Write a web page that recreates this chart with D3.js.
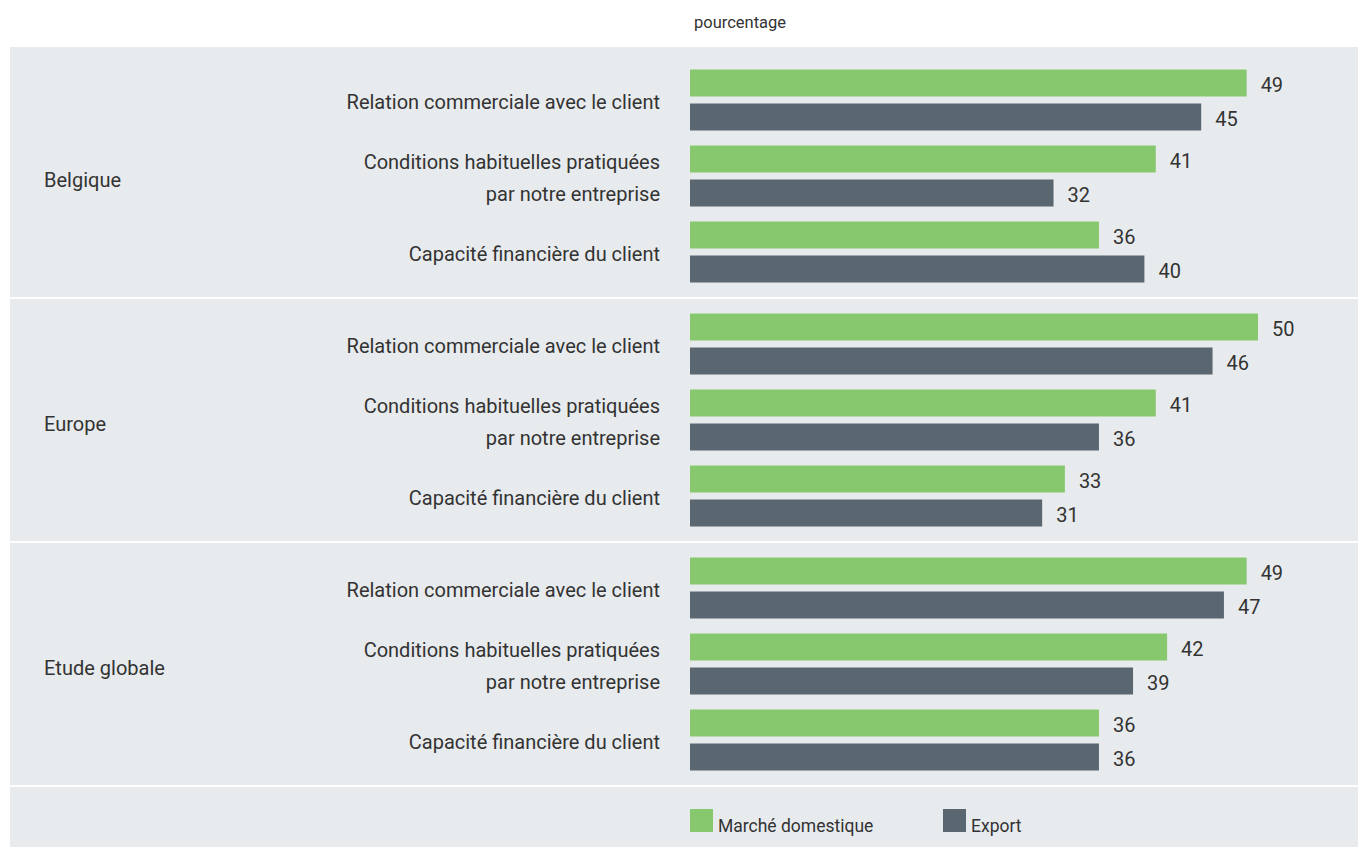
<!DOCTYPE html>
<html><head><meta charset="utf-8">
<script src="https://cdn.jsdelivr.net/npm/d3@7"></script>
<style>
html,body{margin:0;padding:0;background:#fff;}
svg{display:block;font-family:Roboto,"Open Sans",sans-serif;}
</style></head>
<body>
<svg id="chart" width="1358" height="847"></svg>
<script>
const groups = ["Belgique", "Europe", "Etude globale"];
const items = [
  ["Relation commerciale avec le client"],
  ["Conditions habituelles pratiquées", "par notre entreprise"],
  ["Capacité financière du client"]
];
const seriesNames = ["Marché domestique", "Export"];
const domestique = [[49, 41, 36], [50, 41, 33], [49, 42, 36]];
const exportVals = [[45, 32, 40], [46, 36, 31], [47, 39, 36]];
const unitLabel = "pourcentage";

const colors = {"Marché domestique": "#87c86f", "Export": "#5b6770"};
const bg = "#e8ebee";
const textColor = "#333333";

const svg = d3.select("#chart");
const W = 1358;

const x = d3.scaleLinear().domain([0, 50]).range([690, 1258]);
const yGroup = d3.scaleBand().domain(groups).range([54, 786]);
const yItem = d3.scaleBand().domain(d3.range(items.length)).range([0, yGroup.bandwidth()])
  .paddingInner(15/76).paddingOuter(0.204);
const ySeries = d3.scaleBand().domain(seriesNames).range([0, yItem.bandwidth()])
  .paddingInner(7/34).paddingOuter(0);

// background
svg.append("rect").attr("x", 10).attr("y", 47).attr("width", W - 10).attr("height", 847 - 47).attr("fill", bg);

// separators
const seps = groups.map(g => yGroup(g) + yGroup.bandwidth());
svg.selectAll("line.sep").data(seps).join("line")
  .attr("x1", 10).attr("x2", W).attr("y1", d => d).attr("y2", d => d)
  .attr("stroke", "#ffffff").attr("stroke-width", 2);

// unit label
svg.append("text").attr("x", 694).attr("y", 28).attr("font-size", 16.5).attr("fill", textColor).text(unitLabel);

const rows = [];
groups.forEach((g, gi) => {
  items.forEach((it, ii) => {
    rows.push({g, gi, ii, label: it, values: [
      {s: seriesNames[0], v: domestique[gi][ii]},
      {s: seriesNames[1], v: exportVals[gi][ii]}
    ]});
  });
});

// group labels
svg.selectAll("text.grp").data(groups).join("text")
  .attr("x", 44).attr("y", d => yGroup(d) + yGroup.bandwidth()/2 + 4)
  .attr("dominant-baseline", "central")
  .attr("font-size", 20).attr("fill", textColor).text(d => d);

const rowG = svg.selectAll("g.row").data(rows).join("g")
  .attr("transform", d => `translate(0,${yGroup(d.g) + yItem(d.ii)})`);

// item labels
rowG.each(function(d) {
  const sel = d3.select(this);
  const cy = yItem.bandwidth()/2;
  const n = d.label.length;
  const lh = 32;
  d.label.forEach((line, li) => {
    sel.append("text")
      .attr("x", 660).attr("y", cy + (li - (n-1)/2) * lh + 2)
      .attr("text-anchor", "end").attr("dominant-baseline", "central")
      .attr("font-size", 20).attr("fill", textColor).text(line);
  });
});

rowG.selectAll("rect.bar").data(d => d.values).join("rect")
  .attr("x", x(0)).attr("y", d => ySeries(d.s))
  .attr("width", d => x(d.v) - x(0)).attr("height", ySeries.bandwidth())
  .attr("fill", d => colors[d.s]);

rowG.selectAll("text.val").data(d => d.values).join("text")
  .attr("x", d => x(d.v) + 14).attr("y", d => ySeries(d.s) + ySeries.bandwidth()/2 + 2.5)
  .attr("dominant-baseline", "central")
  .attr("font-size", 20).attr("fill", textColor).text(d => d.v);

// legend
const legX = [690, 943];
const lg = svg.selectAll("g.leg").data(seriesNames).join("g")
  .attr("transform", (d, i) => `translate(${legX[i]},809)`);
lg.append("rect").attr("width", 23).attr("height", 23).attr("fill", d => colors[d]);
lg.append("text").attr("x", 28).attr("y", 23).attr("font-size", 17.5).attr("fill", textColor).text(d => d);
</script>
</body></html>
